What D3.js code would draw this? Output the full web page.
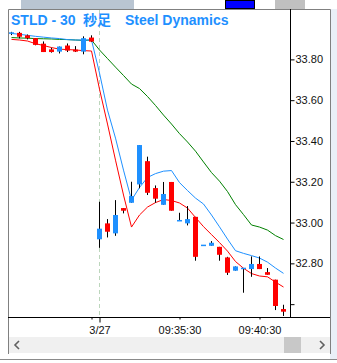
<!DOCTYPE html>
<html><head><meta charset="utf-8">
<script src="https://cdn.jsdelivr.net/npm/d3@7"></script>
<style>html,body{margin:0;padding:0;background:#fff;overflow:hidden}</style>
</head><body>
<svg id="c" width="337" height="363"></svg>
<script>
// ---- data ----
const times = ["15:54:30","15:55:00","15:55:30","15:56:00","15:56:30","15:57:00","15:57:30","15:58:00","15:58:30","15:59:00","15:59:30",
 "09:30:30","09:31:00","09:31:30","09:32:00","09:32:30","09:33:00","09:33:30","09:34:00","09:34:30","09:35:00","09:35:30","09:36:00",
 "09:36:30","09:37:00","09:37:30","09:38:00","09:38:30","09:39:00","09:39:30","09:40:00","09:40:30","09:41:00","09:41:30","09:42:00"];
const openP = [33.929,33.930,33.918,33.904,33.877,33.849,33.838,33.868,33.848,33.838,33.907,
 32.918,32.996,32.947,33.071,33.097,33.187,33.301,33.169,33.087,33.199,33.009,32.996,33.028,32.888,32.886,32.881,32.829,32.764,32.775,32.772,32.797,32.757,32.720,32.576];
const highP = [33.935,33.935,33.922,33.904,33.888,33.857,33.863,33.878,33.865,33.913,33.918,
 33.102,33.017,33.110,33.071,33.200,33.380,33.323,33.182,33.199,33.199,33.048,33.081,33.028,32.888,32.909,32.881,32.832,32.785,32.775,32.834,32.834,32.777,32.720,32.597];
const lowP = [33.919,33.903,33.898,33.869,33.836,33.833,33.829,33.836,33.836,33.825,33.885,
 32.876,32.927,32.935,33.045,33.097,33.168,33.135,33.097,33.087,33.058,33.009,32.986,32.813,32.888,32.886,32.813,32.743,32.764,32.656,32.734,32.772,32.744,32.571,32.542];
const closeP = [33.929,33.911,33.904,33.871,33.836,33.836,33.863,33.843,33.838,33.904,33.887,
 32.970,32.955,33.037,33.058,33.130,33.380,33.146,33.117,33.140,33.058,33.009,33.017,32.832,32.888,32.901,32.842,32.754,32.785,32.775,32.797,32.772,32.744,32.591,32.563];
const blueLine = [33.927,33.923,33.918,33.913,33.909,33.905,33.902,33.897,33.895,33.895,33.895,
 33.733,33.551,33.414,33.257,33.110,33.172,33.221,33.240,33.252,33.255,33.196,33.157,33.120,33.091,33.037,32.979,32.919,32.862,32.849,32.838,32.826,32.806,32.777,32.751];
const redLine = [33.898,33.895,33.890,33.877,33.868,33.858,33.850,33.848,33.846,33.843,33.841,
 33.654,33.483,33.306,33.135,32.978,33.037,33.076,33.098,33.113,33.108,33.096,33.071,33.025,32.980,32.941,32.902,32.860,32.809,32.776,32.750,32.738,32.734,32.708,32.684];
const greenLine = [33.907,33.905,33.904,33.902,33.901,33.900,33.898,33.897,33.895,33.893,33.895,
 33.846,33.804,33.762,33.721,33.679,33.657,33.618,33.574,33.527,33.483,33.436,33.395,33.350,33.297,33.245,33.203,33.152,33.088,33.039,32.988,32.978,32.963,32.936,32.917];
const yTicks = [32.6,32.8,33.0,33.2,33.4,33.6,33.8];
const xTickTimes = ["15:59:30","09:30:30","09:35:30","09:40:30"];
const xTickLabels = ["","3/27","09:35:30","09:40:30"];
const dayStart = "09:30:30";
const title = ["STLD - 30","秒足","Steel Dynamics"];

// ---- drawing ----
const svg = d3.select("#c");
const BLUE = "#1e90ff", RED = "#ff0000", GREEN = "#008000";
const plotL = 8, plotR = 290, plotT = 9, plotB = 317;

const x = d3.scalePoint().domain(times).range([11.5, 283.5]);
const y = d3.scaleLinear().domain([32.537, 34.047]).range([plotB, plotT]);

// chrome
svg.append("rect").attr("x",0).attr("y",0).attr("width",337).attr("height",363).attr("fill","#ffffff");
svg.append("rect").attr("x",330).attr("y",9).attr("width",7).attr("height",350).attr("fill","#eaf0f7");
svg.append("rect").attr("x",21).attr("y",0).attr("width",113).attr("height",9).attr("fill","#b9c5d2");
svg.append("rect").attr("x",225.5).attr("y",0.5).attr("width",29).attr("height",8).attr("fill","#0000ff").attr("stroke","#000");
svg.append("rect").attr("x",275).attr("y",0).attr("width",30).attr("height",9).attr("fill","#c0c0c0");
svg.append("path").attr("d","M8.5,354 V9.5 H330.5 V354").attr("fill","none").attr("stroke","#808080");
svg.append("line").attr("x1",0).attr("x2",337).attr("y1",359.5).attr("y2",359.5).attr("stroke","#8a8a8a");
// scrollbar
svg.append("rect").attr("x",9).attr("y",337).attr("width",321).attr("height",16).attr("fill","#f0f0f0");
svg.append("rect").attr("x",284).attr("y",337).attr("width",17).attr("height",16).attr("fill","#c8c8c8");
svg.append("path").attr("d","M19,341 L15,345 L19,349").attr("fill","none").attr("stroke","#606060").attr("stroke-width",1.6);
svg.append("path").attr("d","M320,341 L324,345 L320,349").attr("fill","none").attr("stroke","#606060").attr("stroke-width",1.6);

// day separator
svg.append("line").attr("x1",x(dayStart)).attr("x2",x(dayStart)).attr("y1",plotT+1).attr("y2",plotB)
  .attr("stroke","#bcd6bc").attr("stroke-dasharray","4,3");

const g = svg.append("g");
const idx = d3.range(times.length);
const lineGen = arr => d3.line().x(i => x(times[i])).y(i => y(arr[i]))(idx);
g.append("path").attr("d",lineGen(greenLine)).attr("fill","none").attr("stroke",GREEN).attr("stroke-width",1);
g.append("path").attr("d",lineGen(blueLine)).attr("fill","none").attr("stroke",BLUE).attr("stroke-width",1);
g.append("path").attr("d",lineGen(redLine)).attr("fill","none").attr("stroke",RED).attr("stroke-width",1);

// candles
const cg = svg.append("g");
idx.forEach(i => {
  const cx = x(times[i]);
  const up = closeP[i] >= openP[i];
  cg.append("line").attr("x1",cx).attr("x2",cx).attr("y1",y(highP[i])).attr("y2",y(lowP[i])).attr("stroke","#000").attr("stroke-width",1);
  const top = y(Math.max(openP[i],closeP[i])), bot = y(Math.min(openP[i],closeP[i]));
  const h = Math.max(bot-top, 1.5);
  cg.append("rect").attr("x",cx-2.5).attr("y",top - (bot-top<1.5 ? 0.75 : 0)).attr("width",5).attr("height",h)
    .attr("fill", up ? BLUE : RED);
});

// axes
svg.append("line").attr("x1",plotR+0.5).attr("x2",plotR+0.5).attr("y1",plotT).attr("y2",plotB).attr("stroke","#000");
svg.append("line").attr("x1",plotL).attr("x2",330).attr("y1",plotB+0.5).attr("y2",plotB+0.5).attr("stroke","#000");
const ya = svg.append("g").attr("transform",`translate(${plotR+0.5},0)`)
  .call(d3.axisRight(y).tickValues(yTicks).tickSize(4).tickPadding(1).tickFormat(d => d < 32.7 ? "" : d.toFixed(2)));
ya.select(".domain").remove();
ya.selectAll("text").attr("font-family","Liberation Sans, Arial, sans-serif").attr("font-size","11px").attr("fill","#111");
const xa = svg.append("g").attr("transform",`translate(0,${plotB+0.5})`)
  .call(d3.axisBottom(x).tickValues(xTickTimes).tickSize(2).tickPadding(7).tickFormat((d,i) => xTickLabels[i]));
xa.select(".domain").remove();
xa.selectAll(".tick").filter(d => d === dayStart).select("line").attr("y2",5);
xa.selectAll("text").attr("font-family","Liberation Sans, Arial, sans-serif").attr("font-size","11px").attr("fill","#111");

// title
const t = svg.append("text").attr("y",25).attr("fill",BLUE).attr("font-weight","bold")
  .attr("font-family","Liberation Sans, Arial, 'Noto Sans CJK JP', sans-serif").attr("font-size","14px");
t.append("tspan").attr("x",11).text(title[0]);
t.append("tspan").attr("x",83).attr("font-family","'Noto Sans CJK JP', sans-serif").attr("font-size","14px").text(title[1]);
t.append("tspan").attr("x",125).text(title[2]);
</script>
</body></html>
